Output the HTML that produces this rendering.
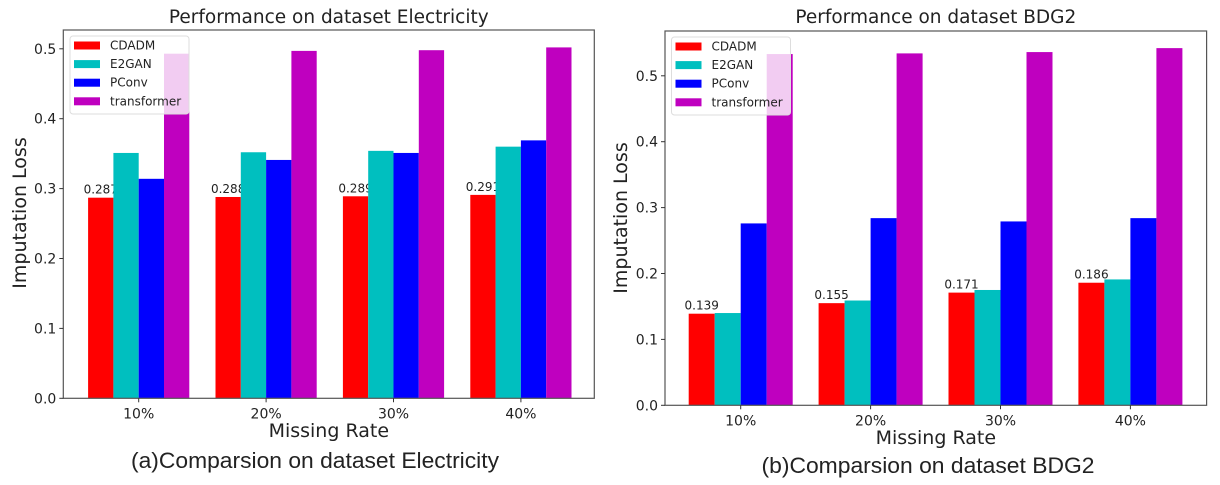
<!DOCTYPE html>
<html><head><meta charset="utf-8"><style>
body{margin:0;background:#fff;width:1220px;height:480px;overflow:hidden}
svg text{font-family:"DejaVu Sans","Liberation Sans",sans-serif;fill:#222}
</style></head><body>
<svg id="fig" width="1220" height="480" xmlns="http://www.w3.org/2000/svg"></svg>
<script>
const categories = ["10%","20%","30%","40%"];
const seriesNames = ["CDADM","E2GAN","PConv","transformer"];
const seriesColors = ["#ff0000","#00bfbf","#0000ff","#bf00bf"];
const yTicks = [0.0,0.1,0.2,0.3,0.4,0.5];
const elecCDADM = [0.287,0.288,0.289,0.291];
const elecE2GAN = [0.351,0.352,0.354,0.360];
const elecPConv = [0.314,0.341,0.351,0.369];
const elecTransformer = [0.493,0.497,0.498,0.502];
const bdgCDADM = [0.139,0.155,0.171,0.186];
const bdgE2GAN = [0.140,0.159,0.175,0.191];
const bdgPConv = [0.276,0.284,0.279,0.284];
const bdgTransformer = [0.533,0.534,0.536,0.542];

const NS="http://www.w3.org/2000/svg";
const svg=document.getElementById('fig');
function mk(tag,attrs,parent){const e=document.createElementNS(NS,tag);for(const k in attrs)e.setAttribute(k,attrs[k]);(parent||svg).appendChild(e);return e;}
function txt(s,attrs,parent){const e=mk('text',attrs,parent);e.textContent=s;return e;}

function drawChart(cfg){
  const g=mk('g',{});
  
  
  const L=cfg.left,R=cfg.right,T=cfg.top,B=cfg.y0;
  const y=v=>B-v*cfg.perUnit;
  const x=i=>cfg.firstTick+i*cfg.spacing;
  const bw=cfg.barW;
  cfg.series.forEach((vals,s)=>{
    vals.forEach((v,i)=>{
      const bx=x(i)-2*bw+s*bw;
      const r=mk('rect',{x:bx,y:y(v),width:bw,height:B-y(v),fill:seriesColors[s]},g);
      
      
      if(s===0){
        const t=txt(v.toFixed(3),{x:bx+bw/2,y:y(v)-4,'font-size':12,'text-anchor':'middle'},g);
        
        
      }
    });
  });
  const frame=mk('rect',{x:L,y:T,width:R-L,height:B-T,fill:'none',stroke:'#555','stroke-width':1.2},g);
  
  
  yTicks.forEach(v=>{
    mk('line',{x1:L-4,x2:L,y1:y(v),y2:y(v),stroke:'#333'},g);
    const t=txt(v.toFixed(1),{x:L-7,y:y(v)+5,'font-size':14,'text-anchor':'end'},g);
    
    
  });
  categories.forEach((c,i)=>{
    mk('line',{x1:x(i),x2:x(i),y1:B,y2:B+4,stroke:'#333'},g);
    const t=txt(c,{x:x(i),y:B+20,'font-size':14,'text-anchor':'middle'},g);
    
    
  });
  const tt=txt(cfg.title,{x:(L+R)/2,y:23,'font-size':18.5,'text-anchor':'middle'},g);
  
  
  const xl=txt('Missing Rate',{x:(L+R)/2,y:cfg.xlabelY,'font-size':19,'text-anchor':'middle'},g);
  
  
  const yl=txt('Imputation Loss',{x:0,y:0,'font-size':19,'text-anchor':'middle',transform:`translate(${cfg.ylabelX},${cfg.ylabelY}) rotate(-90)`},g);
  
  
  const cp=txt(cfg.caption,{x:cfg.capX,y:cfg.capY,'font-size':22,'text-anchor':'middle',textLength:cfg.capLen,lengthAdjust:'spacingAndGlyphs',style:'font-family:"Liberation Sans",sans-serif'},g);
  
  
  const lg=mk('g',{},g);
  
  
  mk('rect',{x:cfg.legX,y:cfg.legY,width:119,height:78,rx:3,fill:'#fff','fill-opacity':0.8,stroke:'#ddd'},lg);
  seriesNames.forEach((n,s)=>{
    const cy=cfg.legY+9.5+s*18.6;
    const p=mk('rect',{x:cfg.legX+4,y:cy-4,width:26,height:8,fill:seriesColors[s]},lg);
    
    
    const t=txt(n,{x:cfg.legX+40,y:cy+4,'font-size':12},lg);
    
    
  });
}
drawChart({name:'electricity-chart',title:'Performance on dataset Electricity',caption:'(a)Comparsion on dataset Electricity',
  left:63.3,right:594.3,top:30,y0:398.3,perUnit:699,firstTick:138.7,spacing:127.4,barW:25.3,
  series:[elecCDADM,elecE2GAN,elecPConv,elecTransformer],xlabelY:437,ylabelX:26,ylabelY:213,capX:315,capY:468,capLen:368,legX:70,legY:36});
drawChart({name:'bdg2-chart',title:'Performance on dataset BDG2',caption:'(b)Comparsion on dataset BDG2',
  left:665,right:1206.6,top:31,y0:405.3,perUnit:659,firstTick:740.7,spacing:129.9,barW:26,
  series:[bdgCDADM,bdgE2GAN,bdgPConv,bdgTransformer],xlabelY:444,ylabelX:627,ylabelY:218,capX:928,capY:473,capLen:333,legX:671.5,legY:37});
</script>
</body></html>
